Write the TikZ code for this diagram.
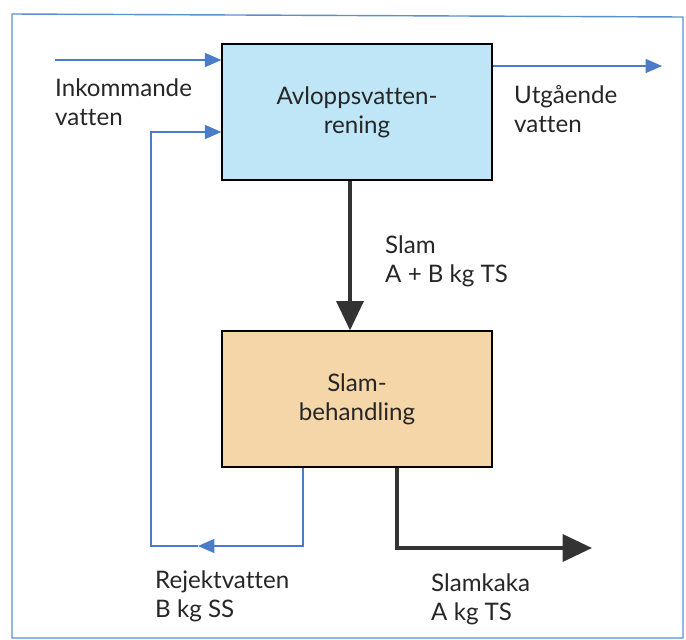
\documentclass[tikz,border=0pt]{standalone}
\usepackage{fontspec}
\setmainfont[Ligatures={NoCommon}]{Lato}
\usetikzlibrary{arrows.meta,positioning,calc}
\definecolor{VBlue}{HTML}{4A7CC8}
\definecolor{VFrame}{HTML}{5A8FD0}
\definecolor{VWater}{HTML}{BEE6F6}
\definecolor{VSludge}{HTML}{F5D6A8}
\definecolor{VDark}{HTML}{333333}
\tikzset{
    block/.style = {draw, rectangle, line width=1.1pt,
        minimum height=4.08cm,
        minimum width=8.1cm, align=center},
    label/.style = {align=left, anchor=west, inner sep=0pt},
    water/.style={draw=VBlue, line width=1pt, -{Triangle[length=14pt,width=12pt]}},
    sludgearrow/.style={draw=VDark, line width=3pt, -{Triangle[length=25pt,width=23pt]}}
}

\begin{document}
\begin{tikzpicture}[x=0.03cm,y=-0.03cm,font=\fontsize{20.6}{24.5}\selectfont,text=black!85]
    \useasboundingbox (0,0) rectangle (686,640);
    % frame
    \draw [VFrame, line width=1.2pt] (12,14) -- (683,17) -- (683,638) -- (12,638) -- cycle;
    % boxes
    \node [block, fill=VWater] (treat) at (357,112) {Avloppsvatten-\\rening};
    \node [block, fill=VSludge, below of=treat, node distance=8.61cm] (sludge) {Slam-\\behandling};
    % labels
    \node [label] (inLbl) at (55,102) {Inkommande\\vatten};
    \node [label] (outLbl) at (514,109) {Utgående\\vatten};
    \node [label] (slamLbl) at (385,261) {Slam\\A + B kg TS};
    \node [label] (rejLbl) at (155,596) {Rejektvatten\\B kg SS};
    \node [label] (cakeLbl) at (431,599) {Slamkaka\\A kg TS};
    % connector points
    \coordinate (inStart) at (55,60);
    \coordinate (outEnd) at (662,66);
    \coordinate (rejDown) at (303,546);
    \coordinate (rejMid) at (198,546);
    \coordinate (rejLeft) at (151,546);
    \coordinate (rejUp) at (151,132);
    \coordinate (slamX) at (350,0);
    \coordinate (cakeTurn) at (397,548);
    \coordinate (cakeEnd) at (592,548);
    % water lines
    \draw [water] (inStart) -- (inStart -| treat.west);
    \draw [water] (outEnd -| treat.east) -- (outEnd);
    \draw [water] (sludge.south -| rejDown) -- (rejDown) -- (rejMid);
    \draw [water] (rejMid) -- (rejLeft) -- (rejUp) -- (rejUp -| treat.west);
    % sludge lines
    \draw [sludgearrow] (treat.south -| slamX) -- (sludge.north -| slamX);
    \draw [sludgearrow] (sludge.south -| cakeTurn) -- (cakeTurn) -- (cakeEnd);
\end{tikzpicture}
\end{document}
